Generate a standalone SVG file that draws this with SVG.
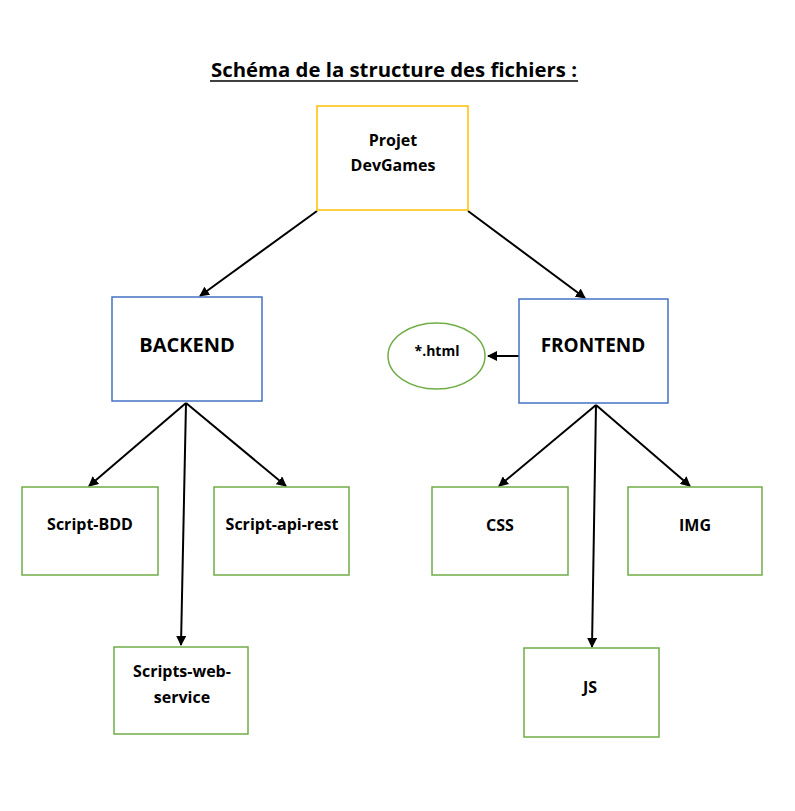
<svg xmlns="http://www.w3.org/2000/svg" width="795" height="811" viewBox="0 0 795 811">
<defs>
<style>
.t{font-family:"Open Sans","Liberation Sans",sans-serif;font-weight:bold;fill:#000;text-anchor:middle}
.y{fill:#fff;stroke:#FFC000;stroke-width:1.5}
.b{fill:#fff;stroke:#4472C4;stroke-width:1.5}
.g{fill:#fff;stroke:#70AD47;stroke-width:1.5}
.c{stroke:#000;stroke-width:2;fill:none;marker-end:url(#ah)}
</style>
<marker id="ah" viewBox="0 0 10 10" refX="9" refY="5" markerWidth="5" markerHeight="5" orient="auto" markerUnits="strokeWidth">
<path d="M0,0 L10,5 L0,10 z" fill="#000"/>
</marker>
</defs>
<rect width="795" height="811" fill="#fff"/>
<g id="title">
<text x="394" y="77" class="t" font-size="20" textLength="366" lengthAdjust="spacingAndGlyphs">Schéma de la structure des fichiers :</text>
<line x1="210" y1="81" x2="578" y2="81" stroke="#000" stroke-width="1.5"/>
</g>
<g id="connectors">
<line class="c" x1="317" y1="211" x2="200" y2="296"/>
<line class="c" x1="468" y1="211" x2="585" y2="298"/>
<line class="c" x1="519" y1="356" x2="488" y2="356"/>
<line class="c" x1="186" y1="403" x2="89" y2="486"/>
<line class="c" x1="186" y1="403" x2="181" y2="645"/>
<line class="c" x1="186" y1="403" x2="286" y2="486"/>
<line class="c" x1="596" y1="405" x2="499" y2="486"/>
<line class="c" x1="596" y1="405" x2="592" y2="647"/>
<line class="c" x1="596" y1="405" x2="690" y2="486"/>
</g>
<g id="projet">
<rect class="y" x="317" y="106" width="151" height="104"/>
<text class="t" x="393" y="146" font-size="16">Projet</text>
<text class="t" x="393" y="171" font-size="16">DevGames</text>
</g>
<g id="backend">
<rect class="b" x="112" y="297" width="150" height="104"/>
<text class="t" x="187" y="352" font-size="20">BACKEND</text>
</g>
<g id="frontend">
<rect class="b" x="519" y="299" width="149" height="104"/>
<text class="t" x="593" y="352" font-size="19">FRONTEND</text>
</g>
<g id="html">
<ellipse class="g" cx="436.5" cy="356" rx="48.5" ry="33"/>
<text class="t" x="437" y="356" font-size="14">*.html</text>
</g>
<g id="script-bdd">
<rect class="g" x="22" y="487" width="136" height="88"/>
<text class="t" x="90" y="530" font-size="16">Script-BDD</text>
</g>
<g id="script-api-rest">
<rect class="g" x="214" y="487" width="135" height="88"/>
<text class="t" x="282" y="530" font-size="16">Script-api-rest</text>
</g>
<g id="scripts-web-service">
<rect class="g" x="114" y="647" width="134" height="87"/>
<text class="t" x="182" y="677" font-size="16">Scripts-web-</text>
<text class="t" x="182" y="703" font-size="16">service</text>
</g>
<g id="css">
<rect class="g" x="432" y="487" width="136" height="88"/>
<text class="t" x="500" y="531" font-size="16">CSS</text>
</g>
<g id="img">
<rect class="g" x="628" y="487" width="134" height="88"/>
<text class="t" x="695" y="531" font-size="16">IMG</text>
</g>
<g id="js">
<rect class="g" x="524" y="648" width="135" height="89"/>
<text class="t" x="590" y="693" font-size="16">JS</text>
</g>
</svg>
